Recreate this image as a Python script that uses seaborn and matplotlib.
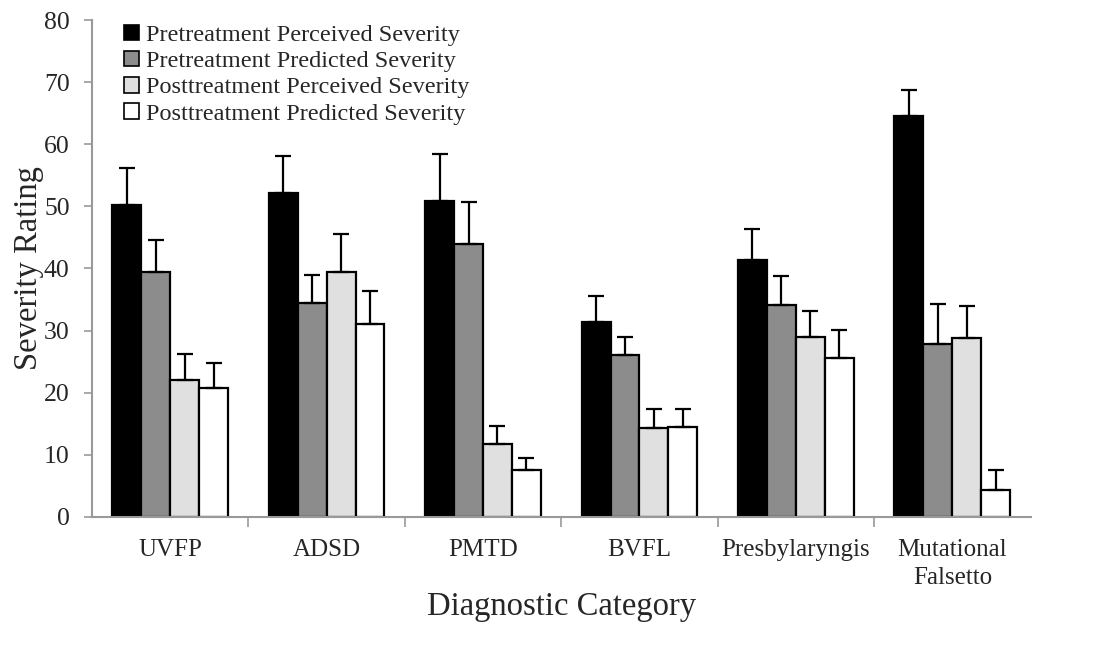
import numpy as np
import pandas as pd
import matplotlib
matplotlib.use("Agg")
import matplotlib.pyplot as plt
import seaborn as sns

categories = ["UVFP", "ADSD", "PMTD", "BVFL", "Presbylaryngis", "Mutational\nFalsetto"]
series = ["Pretreatment Perceived Severity", "Pretreatment Predicted Severity",
          "Posttreatment Perceived Severity", "Posttreatment Predicted Severity"]

pre_perceived = [50.2, 52.2, 50.8, 31.4, 41.4, 64.5]
pre_predicted = [39.5, 34.4, 44.0, 26.1, 34.1, 27.9]
post_perceived = [22.0, 39.4, 11.7, 14.3, 28.9, 28.8]
post_predicted = [20.8, 31.0, 7.5, 14.4, 25.6, 4.3]

pre_perceived_err = [6.0, 5.9, 7.7, 4.2, 5.0, 4.2]
pre_predicted_err = [5.1, 4.6, 6.7, 2.8, 4.7, 6.3]
post_perceived_err = [4.2, 6.1, 3.0, 3.1, 4.3, 5.1]
post_predicted_err = [4.0, 5.3, 2.0, 2.9, 4.5, 3.3]

colors = ["#000000", "#8c8c8c", "#e0e0e0", "#ffffff"]

values = [pre_perceived, pre_predicted, post_perceived, post_predicted]
errors = [pre_perceived_err, pre_predicted_err, post_perceived_err, post_predicted_err]

rows = []
for s, vals in zip(series, values):
    for c, v in zip(categories, vals):
        rows.append({"Category": c, "Series": s, "Value": v})
df = pd.DataFrame(rows)

sns.set_theme(style="white")
plt.rcParams["font.family"] = ["Liberation Serif", "DejaVu Serif"]

fig = plt.figure(figsize=(10.94, 6.46), dpi=100)
ax = fig.add_axes([0.084, 0.20, 0.858, 0.769])

sns.barplot(data=df, x="Category", y="Value", hue="Series", order=categories,
            hue_order=series, palette=colors, width=0.74, errorbar=None,
            edgecolor="black", linewidth=1.6, ax=ax, legend=True)

# error bars (upper only) placed at the bar centers
for cont, errs in zip(ax.containers, errors):
    xs = [p.get_x() + p.get_width() / 2 for p in cont.patches]
    hs = [p.get_height() for p in cont.patches]
    ax.errorbar(xs, hs, yerr=[np.zeros(len(errs)), errs], fmt="none",
                ecolor="black", elinewidth=1.6, capsize=6, capthick=1.6, zorder=3)

ax.set_ylim(0, 80)
ax.set_xlim(-0.5, len(categories) - 0.5)
ax.set_yticks(np.arange(0, 81, 10))
ax.tick_params(axis="y", which="major", direction="out", length=6, color="#999999",
               width=1.2, left=True, labelsize=18.5, pad=10)
ax.set_xticks(range(len(categories)))
ax.set_xticklabels(categories, fontsize=18, linespacing=1.35)
ax.tick_params(axis="x", which="major", length=0, pad=16)
ax.set_xticks(np.arange(0.5, len(categories) - 0.5, 1.0), minor=True)
ax.tick_params(axis="x", which="minor", direction="out", length=7, color="#999999",
               width=1.2, bottom=True)

for side in ["top", "right"]:
    ax.spines[side].set_visible(False)
for side in ["left", "bottom"]:
    ax.spines[side].set_color("#999999")
    ax.spines[side].set_linewidth(1.5)

ax.set_xlabel("Diagnostic Category", fontsize=23.5)
ax.xaxis.set_label_coords(0.5, -0.15)
ax.set_ylabel("Severity Rating", fontsize=23.5, labelpad=0)

leg = ax.legend(loc="upper left", bbox_to_anchor=(0.024, 1.01), frameon=False,
                fontsize=17.5, handlelength=0.6, handleheight=0.6, handletextpad=0.3,
                labelspacing=0.2, borderaxespad=0)
for h in leg.legend_handles:
    h.set_edgecolor("black")
    h.set_linewidth(1.2)

fig.savefig("out.png", dpi=100)
